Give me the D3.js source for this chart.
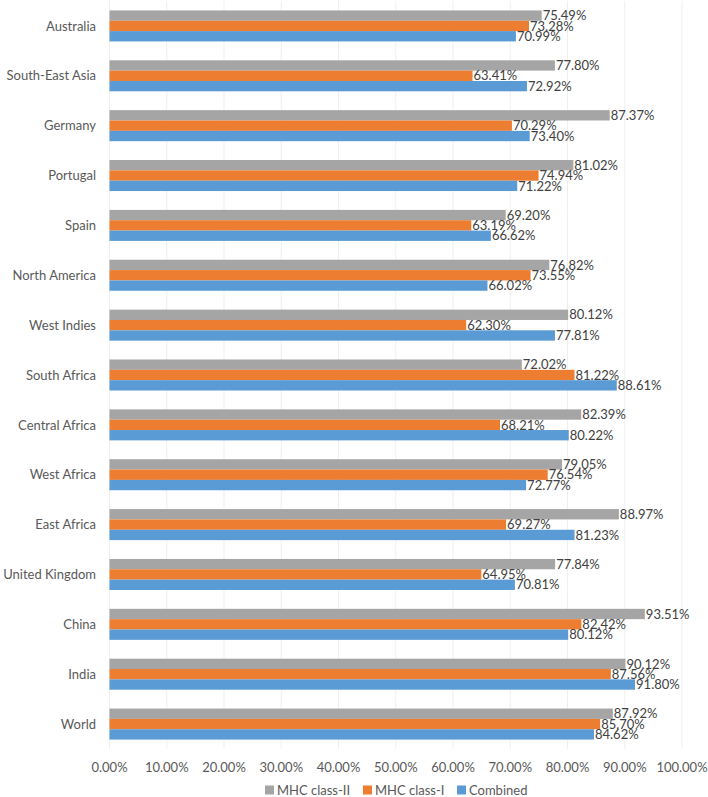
<!DOCTYPE html>
<html>
<head>
<meta charset="utf-8">
<script src="https://cdn.jsdelivr.net/npm/d3@7"></script>
<style>
  body { margin: 0; background: #fff; }
  text { font-family: Lato, "Liberation Sans", sans-serif; }
</style>
</head>
<body>
<div id="chart"></div>
<script>
var regions = ["Australia", "South-East Asia", "Germany", "Portugal", "Spain", "North America",
  "West Indies", "South Africa", "Central Africa", "West Africa", "East Africa",
  "United Kingdom", "China", "India", "World"];
var classII  = [75.49, 77.80, 87.37, 81.02, 69.20, 76.82, 80.12, 72.02, 82.39, 79.05, 88.97, 77.84, 93.51, 90.12, 87.92];
var classI   = [73.28, 63.41, 70.29, 74.94, 63.19, 73.55, 62.30, 81.22, 68.21, 76.54, 69.27, 64.95, 82.42, 87.56, 85.70];
var combined = [70.99, 72.92, 73.40, 71.22, 66.62, 66.02, 77.81, 88.61, 80.22, 72.77, 81.23, 70.81, 80.12, 91.80, 84.62];
var seriesNames = ["MHC class-II", "MHC class-I", "Combined"];
var seriesColors = ["#A5A5A5", "#ED7D31", "#5B9BD5"];
var xTicks = [0, 10, 20, 30, 40, 50, 60, 70, 80, 90, 100];

var width = 708, height = 797;
var margin = {top: 1, right: 26, bottom: 48, left: 109.5};
var fs = 13;

var svg = d3.select("#chart").append("svg")
    .attr("width", width)
    .attr("height", height)

var x = d3.scaleLinear().domain([0, 100]).range([margin.left, width - margin.right]);
var y = d3.scaleBand().domain(regions).range([margin.top, height - margin.bottom]).paddingInner(0.378).paddingOuter(0.189);
var ySub = d3.scaleBand().domain(seriesNames).range([0, y.bandwidth()]);

// gridlines
svg.append("g").selectAll("line")
    .data(xTicks)
    .enter().append("line")
    .attr("x1", d => x(d)).attr("x2", d => x(d))
    .attr("y1", margin.top).attr("y2", height - margin.bottom)
    .attr("stroke", "#efefef")
    .attr("stroke-width", 1)

var data = [classII, classI, combined];

var groups = svg.append("g").selectAll("g")
    .data(regions)
    .enter().append("g")
    .attr("transform", d => "translate(0," + y(d) + ")")

groups.each(function(region, ri) {
  var g = d3.select(this);
  seriesNames.forEach(function(s, si) {
    var v = data[si][ri];
    g.append("rect")
        .attr("x", x(0))
        .attr("y", ySub(s))
        .attr("width", x(v) - x(0))
        .attr("height", ySub.bandwidth())
        .attr("fill", seriesColors[si])
    g.append("text")
        .attr("x", x(v) + 1)
        .attr("y", ySub(s) + ySub.bandwidth() / 2)
        .attr("dy", "0.36em")
        .attr("font-size", fs)
        .attr("fill", "#404040")
        .text(v.toFixed(2) + "%")
  })
})

// category labels
svg.append("g").selectAll("text")
    .data(regions)
    .enter().append("text")
    .attr("x", 96)
    .attr("y", d => y(d) + y.bandwidth() / 2)
    .attr("dy", "0.36em")
    .attr("text-anchor", "end")
    .attr("font-size", fs)
    .attr("fill", "#595959")
    .text(d => d)

// x axis labels
svg.append("g").selectAll("text")
    .data(xTicks)
    .enter().append("text")
    .attr("x", d => x(d))
    .attr("y", 767)
    .attr("dy", "0.36em")
    .attr("text-anchor", "middle")
    .attr("font-size", fs)
    .attr("fill", "#595959")
    .text(d => d.toFixed(2) + "%")

// legend
var legendX = [265, 363, 457];
var legend = svg.append("g").selectAll("g")
    .data(seriesNames)
    .enter().append("g")
    .attr("transform", (d, i) => "translate(" + legendX[i] + ",790)")
legend.append("rect")
    .attr("x", 0).attr("y", -4.5)
    .attr("width", 9).attr("height", 9)
    .attr("fill", (d, i) => seriesColors[i])
legend.append("text")
    .attr("x", 12)
    .attr("dy", "0.36em")
    .attr("font-size", fs)
    .attr("fill", "#595959")
    .text(d => d)
</script>
</body>
</html>
